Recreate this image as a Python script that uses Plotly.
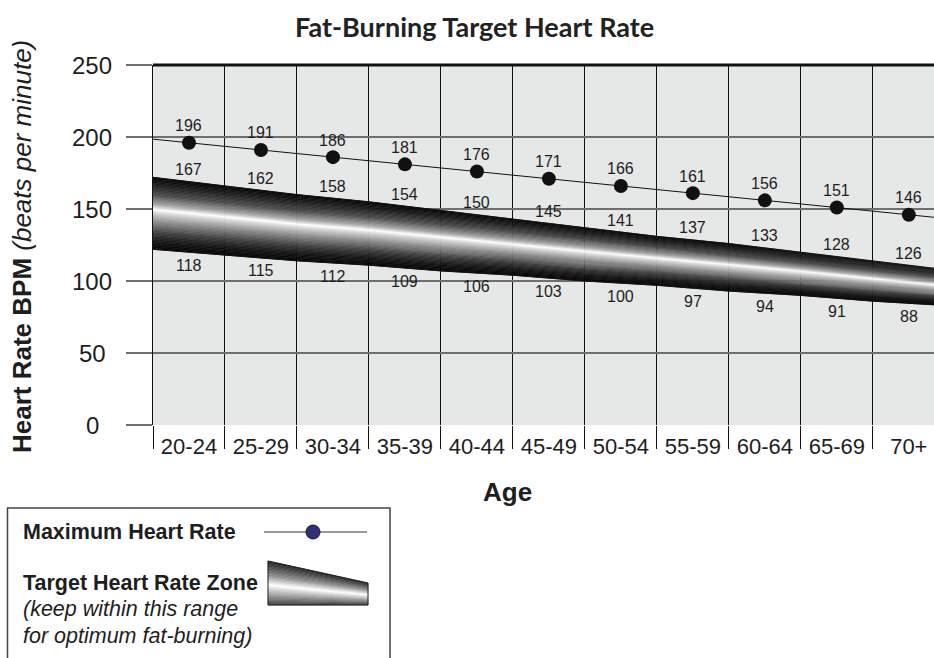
import numpy as np
import plotly.graph_objects as go
from plotly.colors import sample_colorscale

# ---------------- data ----------------
age_groups = ["20-24", "25-29", "30-34", "35-39", "40-44", "45-49",
              "50-54", "55-59", "60-64", "65-69", "70+"]
max_hr = [196, 191, 186, 181, 176, 171, 166, 161, 156, 151, 146]
zone_upper = [167, 162, 158, 154, 150, 145, 141, 137, 133, 128, 126]
zone_lower = [118, 115, 112, 109, 106, 103, 100, 97, 94, 91, 88]
# band edges as drawn in the picture, read at the column boundaries
band_top = [172, 166, 160, 155, 149, 143, 137, 131, 126, 120, 114, 108]
band_bottom = [122, 118, 114, 111, 107, 104, 100, 97, 93, 90, 86, 83]
y_ticks = [0, 50, 100, 150, 200, 250]

# ---------------- layout constants ----------------
W, H = 934, 658
ML, MR, MT, MB = 153, 0, 65, 233
PW, PH = W - ML - MR, H - MT - MB
FONT = "Liberation Sans, Arial, Helvetica, sans-serif"
TXT = "#1e1e1e"


def px(xp):
    return (xp - ML) / PW


def py(yp):
    return (H - MB - yp) / PH


x = list(range(len(age_groups)))
bx = [i - 0.5 for i in range(len(age_groups) + 1)]

metal = [
    [0.00, "#050505"], [0.10, "#1c1c1c"], [0.25, "#4e4e4e"],
    [0.38, "#a8a8a8"], [0.45, "#ffffff"], [0.50, "#d6d6d6"],
    [0.62, "#8c8c8c"], [0.78, "#3c3c3c"], [0.90, "#141414"], [1.00, "#050505"],
]
metal_legend = [
    [0.00, "#222222"], [0.15, "#4e4e4e"], [0.35, "#959595"],
    [0.55, "#ffffff"], [0.65, "#d4d4d4"], [0.85, "#808080"], [1.00, "#404040"],
]

fig = go.Figure()

# gradient band made of thin strips between the drawn edges
N = 50
for i in range(N):
    t0, t1 = i / N, (i + 1) / N
    y0 = [a + t0 * (b - a) for a, b in zip(band_top, band_bottom)]
    y1 = [a + t1 * (b - a) for a, b in zip(band_top, band_bottom)]
    col = sample_colorscale(metal, (t0 + t1) / 2)[0]
    fig.add_trace(go.Scatter(
        x=bx + bx[::-1], y=y0 + y1[::-1], mode="lines", fill="toself",
        fillcolor=col, line=dict(color=col, width=0.6),
        hoverinfo="skip", showlegend=False))

for edge in (band_top, band_bottom):
    fig.add_trace(go.Scatter(x=bx, y=edge, mode="lines",
                             line=dict(color="#111111", width=1),
                             hoverinfo="skip", showlegend=False))

# maximum heart rate trend line across the whole plot, plus dots
coef = np.polyfit(x, max_hr, 1)
line_x = [bx[0], bx[-1]]
fig.add_trace(go.Scatter(x=line_x, y=list(np.polyval(coef, line_x)), mode="lines",
                         line=dict(color="#111111", width=1),
                         hoverinfo="skip", showlegend=False))
fig.add_trace(go.Scatter(x=x, y=max_hr, mode="markers",
                         marker=dict(color="#111111", size=14),
                         name="Maximum Heart Rate", showlegend=False))

annotations = []
LBL = dict(family=FONT, size=16, color=TXT)
# value labels
for i in x:
    annotations.append(dict(x=i, y=max_hr[i], text=str(max_hr[i]), showarrow=False,
                            xanchor="center", yanchor="middle", yshift=17, font=LBL))
    ctop = (band_top[i] + band_top[i + 1]) / 2
    cbot = (band_bottom[i] + band_bottom[i + 1]) / 2
    annotations.append(dict(x=i, y=ctop, text=str(zone_upper[i]), showarrow=False,
                            xanchor="center", yanchor="middle", yshift=12, font=LBL))
    annotations.append(dict(x=i, y=cbot, text=str(zone_lower[i]), showarrow=False,
                            xanchor="center", yanchor="middle", yshift=-13, font=LBL))

# y tick labels (centered, as in the reference)
for v in y_ticks:
    annotations.append(dict(x=px(92), xref="paper", y=v, yref="y", text=str(v),
                            showarrow=False, xanchor="center", yanchor="middle",
                            font=dict(family=FONT, size=24, color=TXT)))

# titles
annotations.append(dict(x=px(474), y=py(27), xref="paper", yref="paper",
                        xanchor="center", yanchor="middle",
                        text="<b>Fat-Burning Target Heart Rate</b>", showarrow=False,
                        font=dict(family="Lato, sans-serif", size=27, color="#222222")))
annotations.append(dict(x=px(507), y=py(492), xref="paper", yref="paper",
                        xanchor="center", yanchor="middle",
                        text="<b>Age</b>", showarrow=False,
                        font=dict(family=FONT, size=26, color=TXT)))
annotations.append(dict(x=px(22), y=py(247), xref="paper", yref="paper", textangle=-90,
                        xanchor="center", yanchor="middle",
                        text="<b>Heart Rate BPM</b> <i>(beats per minute)</i>",
                        showarrow=False,
                        font=dict(family=FONT, size=26, color=TXT)))

# legend texts
LEG = dict(family=FONT, size=21.5, color=TXT)
for txt, yy in [("<b>Maximum Heart Rate</b>", 532),
                ("<b>Target Heart Rate Zone</b>", 583),
                ("<i>(keep within this range</i>", 609),
                ("<i>for optimum fat-burning)</i>", 636)]:
    annotations.append(dict(x=px(21), y=py(yy), xref="paper", yref="paper",
                            xanchor="left", yanchor="middle", text=txt,
                            showarrow=False, font=LEG))

shapes = []
# top border
shapes.append(dict(type="line", xref="paper", yref="paper", x0=0, x1=1, y0=1, y1=1,
                   line=dict(color="#111111", width=3)))
# legend box
shapes.append(dict(type="rect", xref="paper", yref="paper",
                   x0=px(7.5), x1=px(390), y0=py(508), y1=py(672),
                   line=dict(color="#444444", width=1.5), fillcolor="rgba(0,0,0,0)"))
shapes.append(dict(type="line", xref="paper", yref="paper",
                   x0=px(264), x1=px(367), y0=py(532), y1=py(532),
                   line=dict(color="#333333", width=1)))
shapes.append(dict(type="circle", xref="paper", yref="paper",
                   x0=px(306), x1=px(320), y0=py(525), y1=py(539),
                   fillcolor="#2e3175", line=dict(color="#15173d", width=1)))
# legend trapezoid with gradient
LX0, LX1, LT0, LT1, LB = 268, 368, 561, 583, 605
M = 30
for i in range(M):
    t0, t1 = i / M, (i + 1) / M
    a0 = LT0 + t0 * (LB - LT0)
    a1 = LT1 + t0 * (LB - LT1)
    b0 = LT0 + t1 * (LB - LT0)
    b1 = LT1 + t1 * (LB - LT1)
    col = sample_colorscale(metal_legend, (t0 + t1) / 2)[0]
    path = (f"M {px(LX0)},{py(a0)} L {px(LX1)},{py(a1)} "
            f"L {px(LX1)},{py(b1)} L {px(LX0)},{py(b0)} Z")
    shapes.append(dict(type="path", xref="paper", yref="paper", path=path,
                       fillcolor=col, line=dict(color=col, width=0.5)))
shapes.append(dict(type="path", xref="paper", yref="paper",
                   path=(f"M {px(LX0)},{py(LT0)} L {px(LX1)},{py(LT1)} "
                         f"L {px(LX1)},{py(LB)} L {px(LX0)},{py(LB)} Z"),
                   fillcolor="rgba(0,0,0,0)", line=dict(color="#222222", width=1)))

fig.update_layout(
    width=W, height=H,
    margin=dict(l=ML, r=MR, t=MT, b=MB, pad=0),
    paper_bgcolor="white", plot_bgcolor="#e6e7e7",
    showlegend=False,
    annotations=annotations, shapes=shapes,
    xaxis=dict(range=[-0.5, 10.35], tickmode="array", tickvals=x, ticktext=age_groups,
               showgrid=False, zeroline=False, ticks="", showline=False,
               tickfont=dict(family=FONT, size=22, color=TXT),
               ticklabelstandoff=6,
               minor=dict(tick0=-0.5, dtick=1, showgrid=True, gridcolor="#111111",
                          gridwidth=1, ticks="outside", ticklen=23,
                          tickcolor="#111111", tickwidth=1)),
    yaxis=dict(range=[0, 250], tickmode="array", tickvals=y_ticks,
               showticklabels=False, showgrid=True, gridcolor="#6f6f6f",
               gridwidth=1.5, zeroline=False, ticks="outside", ticklen=26,
               tickcolor="#6f6f6f", tickwidth=1.5,
               showline=True, linecolor="#111111", linewidth=1),
)

fig.write_html(
    "out.html",
    config={"displayModeBar": False},
    post_script="document.body.style.margin='0';document.body.style.overflow='hidden';",
)
